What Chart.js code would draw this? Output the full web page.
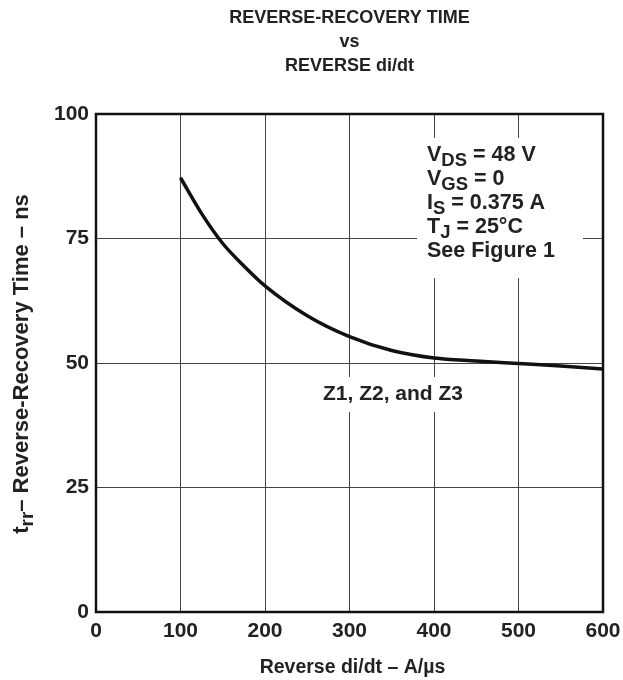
<!DOCTYPE html>
<html>
<head>
<meta charset="utf-8">
<script src="https://cdn.jsdelivr.net/npm/chart.js@4/dist/chart.umd.min.js"></script>
<style>
  html, body { margin: 0; padding: 0; background: #fff; }
  #wrap { width: 623px; height: 680px; }
</style>
</head>
<body>
<div id="wrap"><canvas id="c" width="623" height="680"></canvas></div>
<script>
// reverse di/dt (A/us) vs trr (ns)
const didt = [100, 125, 150, 175, 200, 250, 300, 350, 400, 450, 500, 550, 600];
const trr = [87.2, 80, 74, 69.5, 65.5, 59.5, 55.3, 52.5, 51, 50.4, 49.9, 49.4, 48.8];
const xTicks = [0, 100, 200, 300, 400, 500, 600];
const yTicks = [0, 25, 50, 75, 100];
const titleLines = ['REVERSE-RECOVERY TIME', 'vs', 'REVERSE di/dt'];

const FONT = '"Liberation Sans", Arial, sans-serif';

// draws text pieces, some of them subscripted
function drawParts(ctx, parts, x, y, size) {
    parts.forEach(p => {
        ctx.font = 'bold ' + (p.sub ? size - 3 : size) + 'px ' + FONT;
        ctx.fillText(p.t, x, y + (p.sub ? 6 : 0));
        x += ctx.measureText(p.t).width;
    });
}
function partsWidth(ctx, parts, size) {
    let w = 0;
    parts.forEach(p => {
        ctx.font = 'bold ' + (p.sub ? size - 3 : size) + 'px ' + FONT;
        w += ctx.measureText(p.t).width;
    });
    return w;
}

const decor = {
    id: 'decor',
    beforeDatasetsDraw(chart) {
        const ctx = chart.ctx;
        ctx.save();
        ctx.fillStyle = '#fff';
        ctx.fillRect(417, 138, 166, 140);   // conditions box
        ctx.fillRect(316, 377, 154, 35);    // Z label
        ctx.restore();
    },
    afterDraw(chart) {
        const ctx = chart.ctx;
        const a = chart.chartArea;
        ctx.save();
        ctx.strokeStyle = '#111';
        ctx.lineWidth = 2.5;
        ctx.strokeRect(a.left, a.top, a.right - a.left, a.bottom - a.top);

        ctx.fillStyle = '#222';
        ctx.textBaseline = 'middle';
        ctx.textAlign = 'center';
        ctx.font = 'bold 18px ' + FONT;
        const cx = (a.left + a.right) / 2;
        titleLines.forEach((t, i) => ctx.fillText(t, cx, 18 + i * 24));

        ctx.font = 'bold 21px ' + FONT;
        ctx.fillText('Z1, Z2, and Z3', 393, 394);
        ctx.font = 'bold 19.5px ' + FONT;
        ctx.fillText('Reverse di/dt \u2013 A/\u00b5s', cx + 3, 668);

        ctx.textAlign = 'left';
        const notes = [
            [{t: 'V'}, {t: 'DS', sub: true}, {t: ' = 48 V'}],
            [{t: 'V'}, {t: 'GS', sub: true}, {t: ' = 0'}],
            [{t: 'I'}, {t: 'S', sub: true}, {t: ' = 0.375 A'}],
            [{t: 'T'}, {t: 'J', sub: true}, {t: ' = 25\u00b0C'}],
            [{t: 'See Figure 1'}]
        ];
        notes.forEach((n, i) => drawParts(ctx, n, 427, 155 + i * 24, 21.5));

        // rotated y title
        const yt = [{t: 't'}, {t: 'rr', sub: true}, {t: '\u2013 Reverse-Recovery Time \u2013 ns'}];
        ctx.translate(22, 364);
        ctx.rotate(-Math.PI / 2);
        drawParts(ctx, yt, -partsWidth(ctx, yt, 22) / 2, 0, 22);
        ctx.restore();
    }
};

new Chart(document.getElementById('c'), {
    type: 'line',
    data: {
        datasets: [{
            data: didt.map((x, i) => ({x: x, y: trr[i]})),
            borderColor: '#111',
            borderWidth: 3.5,
            pointRadius: 0,
            fill: false,
            cubicInterpolationMode: 'monotone'
        }]
    },
    options: {
        responsive: false,
        animation: false,
        events: [],
        layout: { padding: { top: 114, right: 20, left: 0, bottom: 0 } },
        plugins: { legend: { display: false }, tooltip: { enabled: false } },
        scales: {
            x: {
                type: 'linear',
                min: 0, max: 600,
                afterBuildTicks: s => { s.ticks = xTicks.map(v => ({value: v})); },
                afterFit: s => { s.height = 68; s.paddingRight = 0; s.paddingLeft = 0; },
                grid: { color: '#444', lineWidth: 1, drawTicks: false },
                border: { display: false },
                ticks: {
                    color: '#222', padding: 7, maxRotation: 0,
                    font: { family: FONT, size: 21, weight: 'bold' }
                }
            },
            y: {
                min: 0, max: 100,
                afterBuildTicks: s => { s.ticks = yTicks.map(v => ({value: v})); },
                afterFit: s => { s.width = 96; s.paddingTop = 0; s.paddingBottom = 0; },
                grid: { color: '#444', lineWidth: 1, drawTicks: false },
                border: { display: false },
                ticks: {
                    color: '#222', padding: 7,
                    font: { family: FONT, size: 21, weight: 'bold' }
                }
            }
        }
    },
    plugins: [decor]
});
</script>
</body>
</html>
